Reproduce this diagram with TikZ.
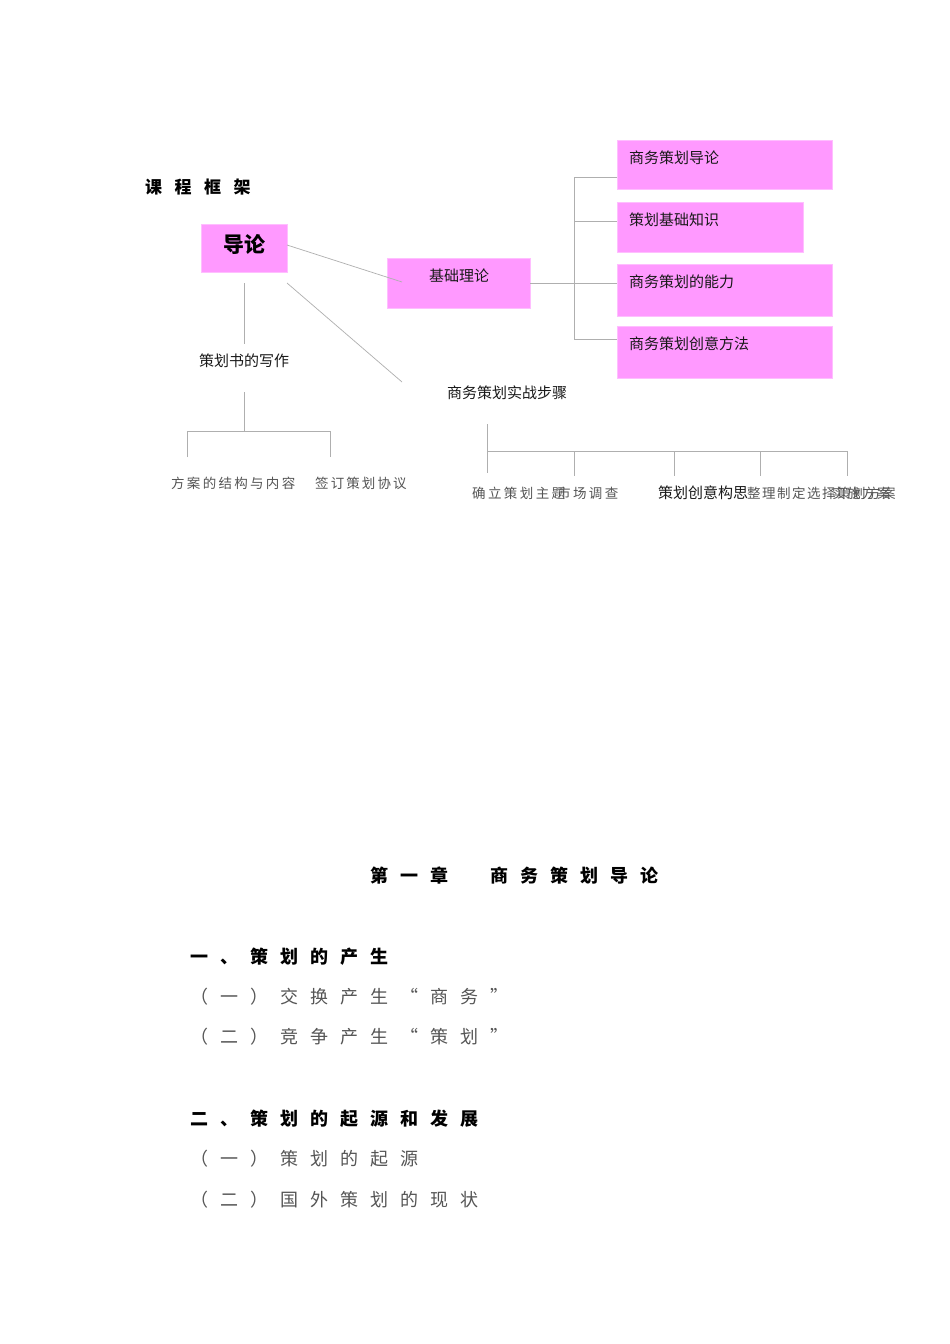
\documentclass[tikz,border=0pt]{standalone}
\usepackage{fontspec}
\setmainfont{Noto Sans CJK SC}
\ExplSyntaxOn
\NewDocumentCommand\spaced{mm}{\tl_map_inline:nn {#2} {\makebox[#1][l]{##1}}}
\ExplSyntaxOff
\definecolor{pinkf}{RGB}{255,153,255}
\definecolor{pinkd}{RGB}{255,190,255}
\definecolor{linec}{RGB}{175,175,175}
\definecolor{txt}{RGB}{25,25,25}
\definecolor{ltxt}{RGB}{85,85,85}
\begin{document}
\begin{tikzpicture}[x=1pt,y=-1pt,
  box/.style={fill=pinkf, draw=pinkd, line width=0.6pt, inner sep=0, anchor=north west},
  conn/.style={draw=linec, line width=0.7pt},
  lbl/.style={inner sep=0, anchor=west, text=txt, font=\fontsize{15}{18}\selectfont},
  slbl/.style={inner sep=0, anchor=west, text=ltxt, font=\fontsize{13.5}{16}\selectfont},
  head/.style={inner sep=0, anchor=west, text=black, font=\fontsize{18}{20}\selectfont\bfseries},
  sub/.style={inner sep=0, anchor=west, text=ltxt, font=\fontsize{18}{20}\selectfont}]
\useasboundingbox (0,0) rectangle (950,1344);
\fill[white] (0,0) rectangle (950,1344);

% title
\node[inner sep=0, anchor=west, font=\fontsize{17}{20}\selectfont\bfseries] (title) at (145,187) {\spaced{29.5pt}{课程框架}};

% boxes
\node[box, minimum width=86pt, minimum height=48pt] (intro) at (201,224) {};
\node[inner sep=0, font=\fontsize{21}{24}\selectfont\bfseries] (introt) at (244,244) {导论};
\node[box, minimum width=143pt, minimum height=50pt] (basic) at (387,258) {};
\node[lbl, anchor=center] (basict) at (459,276) {基础理论};

\node[box, minimum width=215pt, minimum height=49pt] (b1) at (617,140) {};
\node[box, minimum width=186pt, minimum height=50pt] (b2) at (617,202) {};
\node[box, minimum width=215pt, minimum height=52pt] (b3) at (617,264) {};
\node[box, minimum width=215pt, minimum height=52pt] (b4) at (617,326) {};
\node[lbl] (b1t) at (629,158) {商务策划导论};
\node[lbl] (b2t) at (629,220) {策划基础知识};
\node[lbl] (b3t) at (629,282) {商务策划的能力};
\node[lbl] (b4t) at (629,344) {商务策划创意方法};

% coordinates
\coordinate (iR1) at (287,245);
\coordinate (bIn) at (402,282);
\coordinate (iR2) at (287,283);
\coordinate (sEnd) at (402,382);
\coordinate (iB) at (244,283);
\coordinate (wT) at (244,344);
\coordinate (bR) at (530,283);
\coordinate (br1) at (574,177);
\coordinate (br2) at (574,221);
\coordinate (br3) at (574,283);
\coordinate (br4) at (574,339);

% left connectors
\draw[conn] (iR1) -- (bIn);
\draw[conn] (iR2) -- (sEnd);
\draw[conn] (iB) -- (wT);

% right bracket
\draw[conn] (bR) -- (br3 -| b3.west);
\draw[conn] (br1) -- (br4);
\draw[conn] (br1) -- (br1 -| b1.west);
\draw[conn] (br2) -- (br2 -| b2.west);
\draw[conn] (br4) -- (br4 -| b4.west);

% writing branch
\node[lbl, anchor=center] (write) at (244,361) {策划书的写作};
\coordinate (w1) at (244,392);
\coordinate (w2) at (244,431);
\coordinate (wl) at (187,431);
\coordinate (wr) at (330,431);
\coordinate (wlb) at (187,457);
\coordinate (wrb) at (330,457);
\draw[conn] (w1) -- (w2);
\draw[conn] (wlb) -- (wl) -- (wr) -- (wrb);
\node[slbl] (w1t) at (171,483) {\spaced{15.8pt}{方案的结构与内容}};
\node[slbl] (w2t) at (315,483) {\spaced{15.6pt}{签订策划协议}};

% steps branch
\node[lbl, anchor=center] (steps) at (507,393) {商务策划实战步骤};
\coordinate (s0) at (487,424);
\coordinate (s0b) at (487,473);
\coordinate (sh) at (487,451);
\coordinate (se) at (847,451);
\draw[conn] (s0) -- (s0b);
\draw[conn] (sh) -- (se);
\foreach \xx/\nn in {574/t2,674/t3,760/t4,847/t5}{
  \coordinate (\nn a) at (\xx,451);
  \coordinate (\nn b) at (\xx,476);
  \draw[conn] (\nn a) -- (\nn b);
}
\node[slbl] (s1t) at (472,493) {\spaced{15.9pt}{确立策划主题}};
\node[slbl] (s2t) at (557,493) {\spaced{15.9pt}{市场调查}};
\node[lbl] (s3t) at (658,493) {策划创意构思};
\node[slbl] (s4t) at (747,493) {\spaced{15pt}{整理制定选择策划方案}};
\node[slbl] (s5t) at (832,493) {\spaced{15pt}{实施方案}};

% chapter text
\node[head] (ch) at (370,876) {\spaced{30pt}{第一章\ 商务策划导论}};
\node[head] (h1) at (190,957) {\spaced{30pt}{一、策划的产生}};
\node[sub] (h11) at (190,997) {\spaced{30pt}{（一）交换产生“商务”}};
\node[sub] (h12) at (190,1037) {\spaced{30pt}{（二）竞争产生“策划”}};
\node[head] (h2) at (190,1119) {\spaced{30pt}{二、策划的起源和发展}};
\node[sub] (h21) at (190,1159) {\spaced{30pt}{（一）策划的起源}};
\node[sub] (h22) at (190,1200) {\spaced{30pt}{（二）国外策划的现状}};
\end{tikzpicture}
\end{document}
